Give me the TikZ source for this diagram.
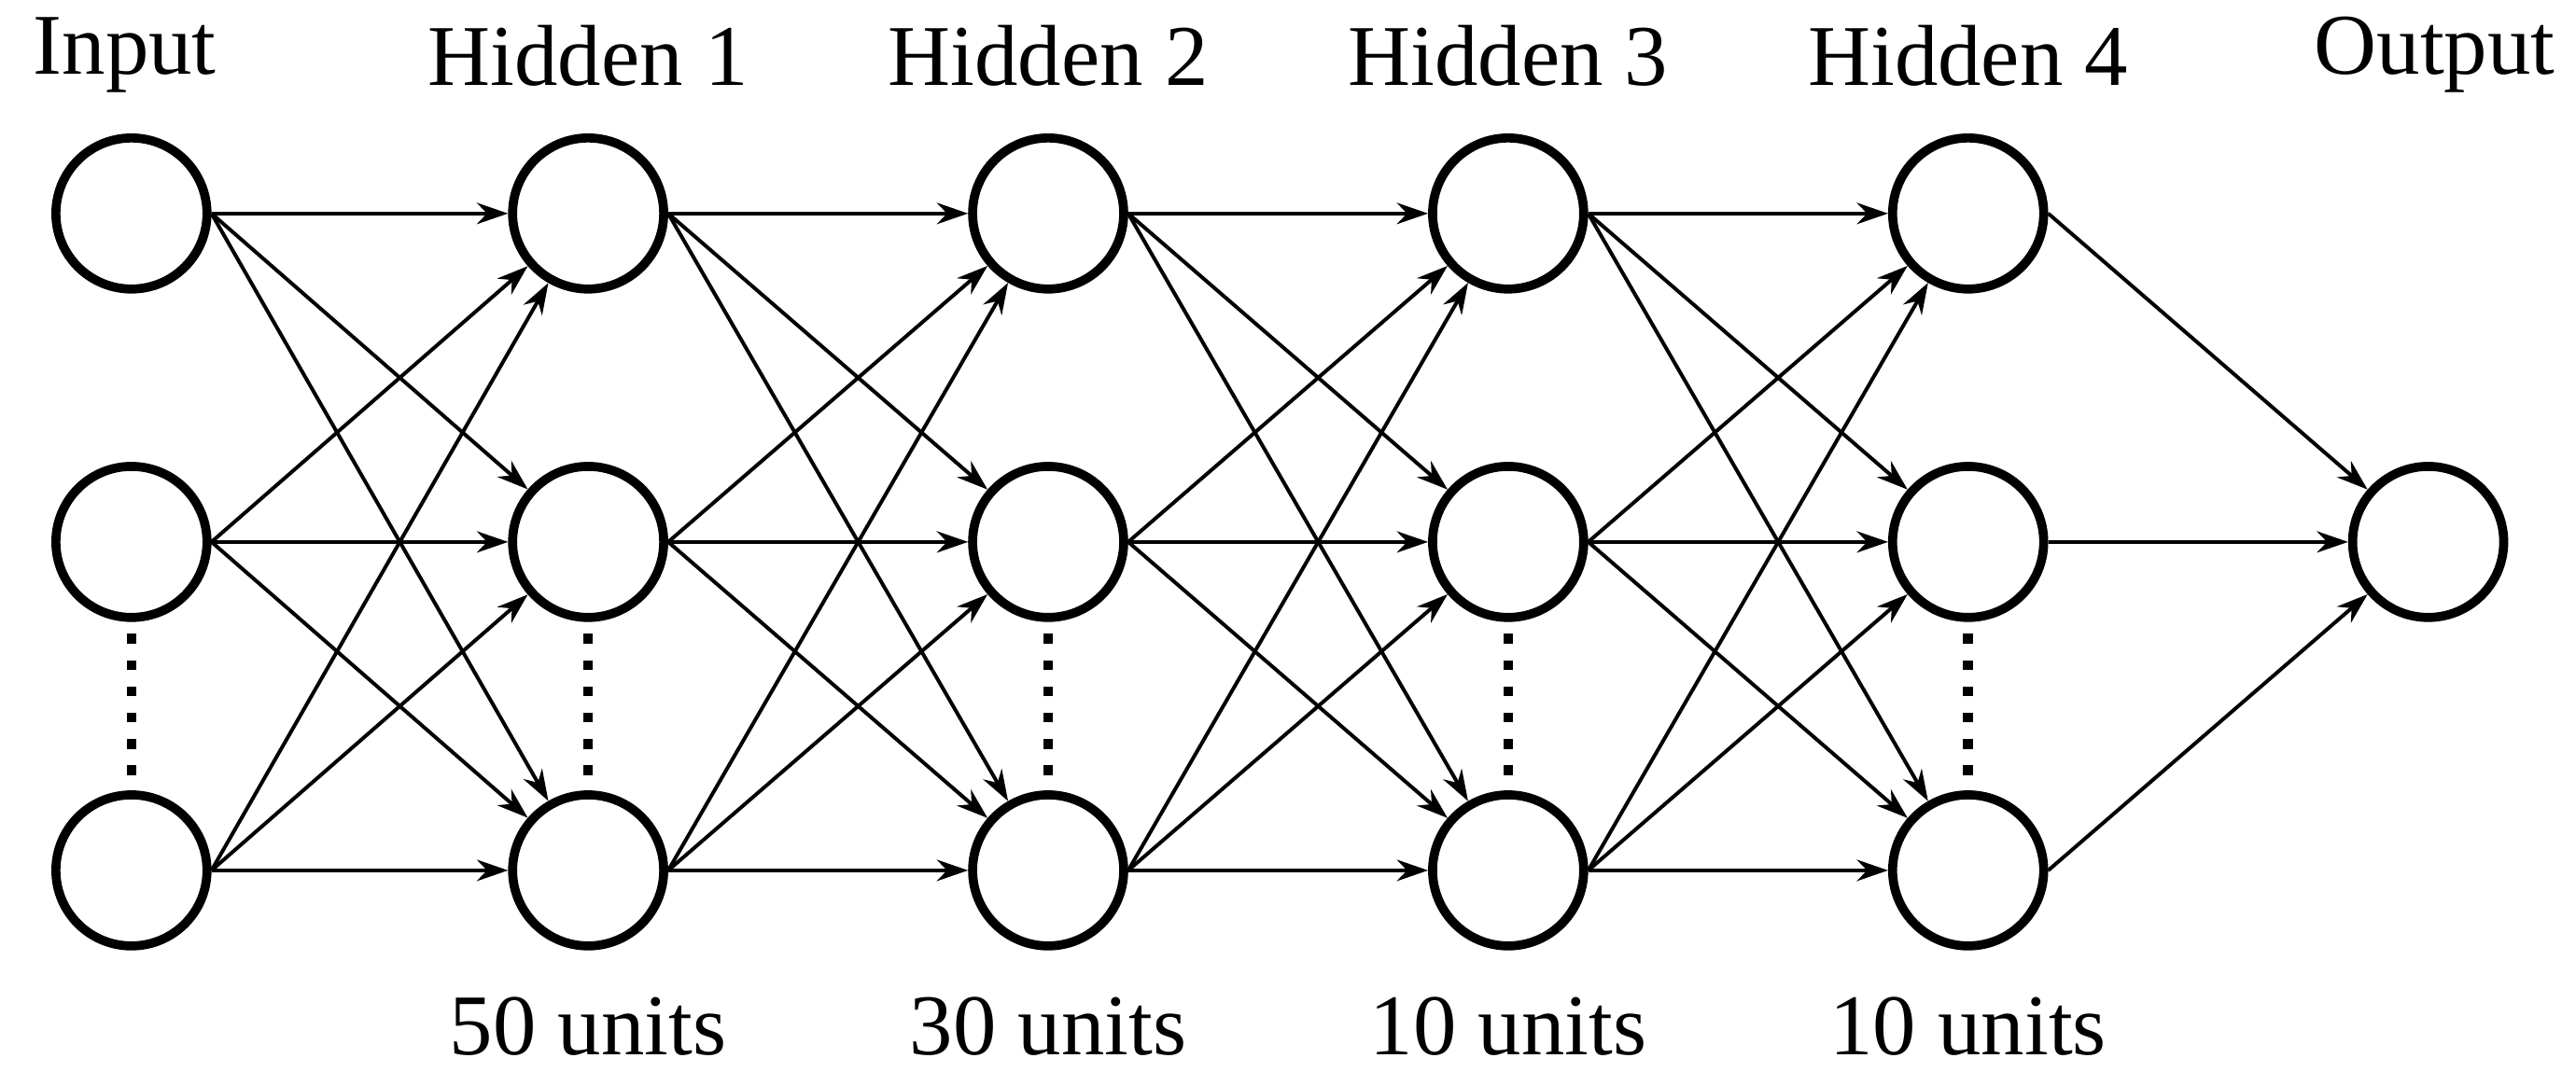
\documentclass[tikz,border=0pt]{standalone}
\usepackage{fontspec}
\setmainfont{Liberation Serif}
\usetikzlibrary{arrows.meta}
\begin{document}
\begin{tikzpicture}[x=0.02cm,y=-0.02cm,
  neuron/.style={circle,draw,line width=0.11cm,minimum size=1.84cm,inner sep=0},
  conn/.style={line width=0.045cm,-{Stealth[length=0.38cm,width=0.26cm]}},
  lbl/.style={font=\fontsize{30}{34}\selectfont,anchor=base},
  dots/.style={line width=0.12cm,dash pattern=on 0.12cm off 0.2cm}]
\useasboundingbox (0,0) rectangle (1568,661);
\foreach \c/\x in {0/80,1/358,2/638,3/918,4/1198}{
  \node[neuron] (n\c a) at (\x,130) {};
  \node[neuron] (n\c b) at (\x,330) {};
  \node[neuron] (n\c c) at (\x,530) {};
  \coordinate (d\c s) at (\x,386);
  \coordinate (d\c e) at (\x,478);
  \draw[dots] (d\c s) -- (d\c e);
}
\node[neuron] (out) at (1478,330) {};
\foreach \c/\n in {0/1,1/2,2/3,3/4}{
  \foreach \i in {a,b,c}{
    \foreach \j in {a,b,c}{
      \draw[conn] (n\c\i.east) -- (n\n\j);
    }
  }
}
\foreach \i in {a,b,c}{\draw[conn] (n4\i.east) -- (out);}
\node[lbl] (t0) at (76,45) {Input};
\node[lbl] (t1) at (358,52) {Hidden 1};
\node[lbl] (t2) at (638,52) {Hidden 2};
\node[lbl] (t3) at (918,52) {Hidden 3};
\node[lbl] (t4) at (1198,52) {Hidden 4};
\node[lbl] (t5) at (1482,45) {Output};
\node[lbl] (u1) at (358,642) {50 units};
\node[lbl] (u2) at (638,642) {30 units};
\node[lbl] (u3) at (918,642) {10 units};
\node[lbl] (u4) at (1198,642) {10 units};
\end{tikzpicture}
\end{document}
